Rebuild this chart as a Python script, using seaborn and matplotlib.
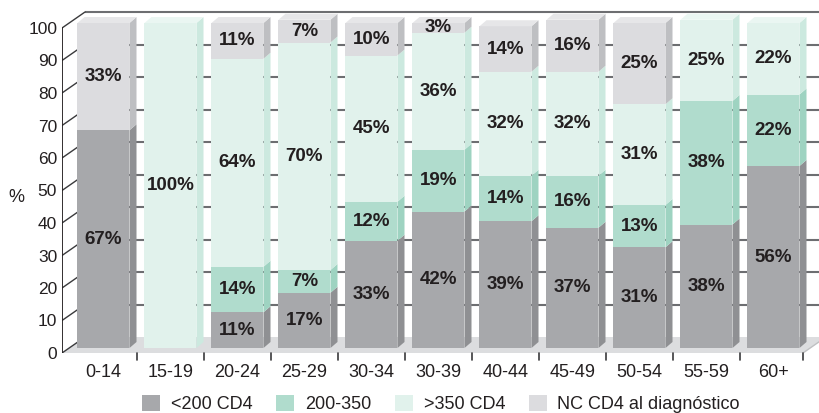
import numpy as np
import pandas as pd
import matplotlib
matplotlib.use("Agg")
import matplotlib.pyplot as plt
import matplotlib.transforms as mtransforms
from matplotlib.patches import Patch
import seaborn as sns

# ---------------- data ----------------
categories = ["0-14", "15-19", "20-24", "25-29", "30-34", "30-39",
              "40-44", "45-49", "50-54", "55-59", "60+"]
cd4_lt200 = [67, 0, 11, 17, 33, 42, 39, 37, 31, 38, 56]
cd4_200_350 = [0, 0, 14, 7, 12, 19, 14, 16, 13, 38, 22]
cd4_gt350 = [0, 100, 64, 70, 45, 36, 32, 32, 31, 25, 22]
cd4_nc = [33, 0, 11, 7, 10, 3, 14, 16, 25, 0, 0]
series_names = ["<200 CD4", "200-350", ">350 CD4", "NC CD4 al diagnóstico"]
y_ticks = list(range(0, 101, 10))
y_label = "%"

series = [cd4_lt200, cd4_200_350, cd4_gt350, cd4_nc]

# ---------------- style ----------------
front_col = ["#a7a8ab", "#b0dccd", "#e1f2ec", "#dcdcdf"]
side_col = ["#8f9093", "#9ed3c1", "#cce9df", "#bebfc2"]
top_col = ["#b9babd", "#c2e4d8", "#eaf6f2", "#e6e6e8"]
text_col = "#231f20"
grid_col = "#6d6e71"

sns.set_style("white")
plt.rcParams["font.family"] = ["Liberation Sans", "DejaVu Sans"]

W, H = 820, 413
fig = plt.figure(figsize=(W / 100, H / 100), dpi=100)
ax = fig.add_axes([62 / W, (H - 353) / H, (W - 62) / W, 353 / H])

PXX = 67.0    # pixels per category
PXY = 3.25    # pixels per percent
x0 = -(103.5 - 62) / PXX
x1 = x0 + (W - 62) / PXX
xend = (803 - 103.5) / PXX

# long data for seaborn: cumulative layers drawn from the top down
cum = np.cumsum(np.array(series), axis=0)
for k in range(len(series) - 1, -1, -1):
    df = pd.DataFrame({"cat": categories, "val": cum[k]})
    sns.barplot(data=df, x="cat", y="val", order=categories, color=front_col[k],
                saturation=1, width=52 / PXX, linewidth=0, errorbar=None, ax=ax)

bar_tr = ax.transData + mtransforms.ScaledTranslation(0, 5 / 100, fig.dpi_scale_trans)
for p in ax.patches:
    p.set_transform(bar_tr)
    p.set_zorder(2)

ax.set_xlim(x0, x1)
ax.set_ylim(0, 353 / PXY)
for s in ax.spines.values():
    s.set_visible(False)

# 3D side and top faces of bars
dx, dy = 7 / PXX, 6 / PXY
hw = 26 / PXX
for i in range(len(categories)):
    bottom = 0
    top_k = None
    for k, vals in enumerate(series):
        v = vals[i]
        if v <= 0:
            continue
        xr = i + hw
        ax.fill([xr, xr + dx, xr + dx, xr], [bottom, bottom + dy, bottom + v + dy, bottom + v],
                color=side_col[k], lw=0, transform=bar_tr, zorder=2)
        ax.text(i, bottom + v / 2, f"{v}%", ha="center", va="center", transform=bar_tr,
                fontsize=13.5, fontweight="bold", color=text_col, zorder=4)
        bottom += v
        top_k = k
    xl, xr = i - hw, i + hw
    ax.fill([xl, xr, xr + dx, xl + dx], [bottom, bottom, bottom + dy, bottom + dy],
            color=top_col[top_k], lw=0, transform=bar_tr, zorder=2)

# back wall, floor and axes
DX, DY = 23 / PXX, 16 / PXY
ax.fill([x0, xend, xend + DX, x0 + DX], [0, 0, DY, DY], color="#dcdddf", lw=0, zorder=0.6)
for v in y_ticks:
    if v > 0:
        ax.plot([x0 + DX, x1], [v + DY, v + DY], color=grid_col, lw=1.5, zorder=0.5,
                solid_capstyle="butt")
    ax.plot([x0, x0 + DX], [v, v + DY], color="#3a3a3c", lw=1.0, zorder=0.7)
ax.plot([x0, x0], [0, 100], color="#231f20", lw=1.3, zorder=3)
ax.plot([xend, xend + DX], [0, DY], color="#bfc0c2", lw=1.0, zorder=0.7)
for b in list(np.arange(0.5, len(categories) - 1, 1.0)) + [xend]:
    ax.plot([b, b], [0, -7 / PXY], color="#3a3a3c", lw=1.2, clip_on=False, zorder=3)

ax.set_yticks(y_ticks, [str(v) for v in y_ticks])
ax.set_xticks(range(len(categories)), categories)
ax.tick_params(axis="y", length=0, pad=3.5, labelsize=12.5, labelcolor=text_col)
ax.tick_params(axis="x", length=0, pad=8, labelsize=13, labelcolor=text_col)
ax.set_xlabel("")
ax.set_ylabel(y_label, rotation=0, fontsize=13, color=text_col, ha="center", va="center")
ax.yaxis.set_label_coords((16 - 62) / (W - 62), (353 - 197) / 353)
ax.grid(False)

handles = [Patch(facecolor=c, edgecolor="none") for c in front_col]
fig.legend(handles, series_names, loc="center", bbox_to_anchor=(441 / W, 9 / H), ncol=4,
           frameon=False, handlelength=1.0, handleheight=1.0, handletextpad=0.6,
           columnspacing=1.3, fontsize=13, labelcolor=text_col, borderpad=0)

fig.savefig("out.png", dpi=100)
